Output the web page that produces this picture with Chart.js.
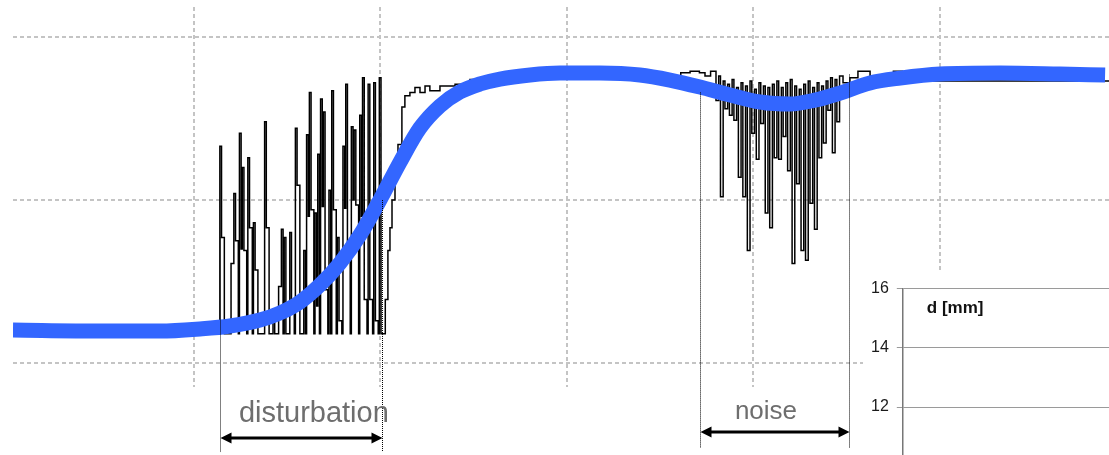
<!DOCTYPE html>
<html>
<head>
<meta charset="utf-8">
<script src="https://cdn.jsdelivr.net/npm/chart.js@4.4.0/dist/chart.umd.min.js"></script>
<style>
  body { margin: 0; background: #fff; }
  #wrap { position: relative; width: 1109px; height: 455px; overflow: hidden; }
  #inset { position: absolute; left: 863px; top: 271px; width: 246px; height: 201px; background: #fff; }
  canvas { display: block; }
</style>
</head>
<body>
<div id="wrap">
  <canvas id="myChart" width="1109" height="455"></canvas>
  <div id="inset"><canvas id="insetChart" width="246" height="201"></canvas></div>
</div>
<script>
// time axis [s], signal in arbitrary units
const gridT = [10, 20, 30, 40, 50];
const gridV = [0, 10, 20];

// smoothed (blue) curve
const blueT = [0.3, 4.96, 8.18, 10.32, 11.93, 13.54, 14.61, 15.68, 16.76, 17.83,
  18.90, 19.97, 21.05, 22.12, 23.19, 24.26, 25.34, 26.41, 28.02, 29.62,
  31.77, 33.91, 35.52, 37.13, 38.74, 40.35, 41.96, 43.30, 44.64, 46.25,
  47.86, 50.0, 53.22, 56.43, 58.85];
const blueV = [2.02, 1.96, 1.96, 2.09, 2.27, 2.64, 3.07, 3.74, 4.79, 6.13,
  7.85, 10.0, 12.33, 14.42, 15.77, 16.63, 17.12, 17.42, 17.67, 17.79,
  17.79, 17.67, 17.36, 16.93, 16.44, 16.01, 15.89, 16.13, 16.56, 17.18,
  17.48, 17.73, 17.79, 17.73, 17.67];

// raw signal: quiet start
const leadT = [0.3, 11.3];
const leadV = [1.8, 1.8];

// disturbation burst, one sample pair per 0.15 s
const distStart = 11.39;
const distStep = 0.15;
const distPeak = [13.3, 7.7, 1.8, 1.8, 6.1, 10.4, 7.5, 14.1, 12.0, 6.9,
  12.6, 8.3, 8.6, 5.7, 1.8, 1.8, 14.8, 8.3, 1.8, 2.6,
  1.8, 4.7, 8.2, 7.7, 1.8, 8.0, 3.9, 14.4, 10.9, 1.8,
  6.9, 14.0, 16.6, 9.4, 9.2, 12.8, 16.2, 15.4, 4.5, 10.6,
  16.7, 9.4, 7.7, 2.6, 13.3, 17.1, 6.9, 14.5, 14.3, 9.7,
  15.2, 17.5, 3.9, 17.1, 3.9, 17.2, 2.6, 17.5, 1.8];
const distLow = [7.7, 1.8, 1.8, 1.8, 6.1, 7.5, 1.8, 7.0, 6.9, 1.8,
  8.3, 1.8, 5.7, 1.8, 1.8, 1.8, 8.3, 1.8, 1.8, 1.8,
  1.8, 4.7, 1.8, 1.8, 1.8, 3.9, 1.8, 10.9, 1.8, 1.8,
  1.8, 9.0, 9.4, 1.8, 3.5, 1.8, 9.6, 4.5, 1.8, 1.8,
  9.4, 1.8, 2.6, 1.8, 9.5, 6.9, 1.8, 10.0, 9.7, 1.8,
  9.0, 3.9, 1.8, 3.9, 1.8, 2.6, 1.8, 1.8, 1.8];

// rise and plateau
const riseT = [20.26, 20.40, 20.51, 20.62, 20.78, 20.94, 21.15, 21.31, 21.58, 21.85,
  22.12, 22.39, 22.65, 23.19, 24.0, 24.8, 26.4, 29.6, 32.8, 36.1,
  36.6, 37.1, 37.4, 37.7];
const riseV = [3.9, 6.9, 8.3, 10.0, 11.8, 13.4, 15.7, 16.4, 16.6, 16.9,
  16.6, 17.0, 16.7, 17.0, 17.1, 17.4, 17.5, 17.6, 17.5, 17.8,
  17.9, 17.8, 17.6, 17.9];

// noise section, one sample pair per 0.24 s
const noiseStart = 37.99;
const noiseStep = 0.24;
const noiseDip = [16.1, 10.2, 15.6, 15.2, 14.9, 11.4, 10.2, 6.9, 14.1, 12.5,
  14.7, 9.2, 8.3, 12.6, 12.5, 13.9, 11.8, 6.1, 11.0, 6.9,
  6.3, 9.8, 8.2, 12.6, 13.5, 15.5, 12.9, 14.8];
const noiseTop = [17.6, 17.3, 17.1, 17.4, 16.9, 17.2, 17.0, 17.3, 16.8, 17.2,
  17.0, 16.9, 17.1, 17.3, 16.9, 17.2, 17.4, 17.0, 16.8, 17.1,
  17.3, 16.9, 17.2, 17.0, 17.3, 17.5, 17.4, 17.6];

const tailT = [44.8, 45.17, 45.6, 46.25, 47.5, 48.0, 59.06];
const tailV = [17.2, 17.5, 17.9, 17.6, 17.9, 17.3, 17.3];

// marked intervals
const regionNames = ['disturbation', 'noise'];
const regionStart = [11.39, 37.13];
const regionEnd = [20.08, 45.12];
const guideTopStart = [7.7, 16.6];
const guideTopEnd = [10.0, 17.7];
const guideFloor = [-5.46, -5.2];
const arrowLevel = [-4.6, -4.23];
const labelT = [16.43, 40.67];
const labelV = [-3.62, -3.44];

// inset axis d [mm]
const insetTicks = [12, 14, 16];
const insetTitle = 'd [mm]';

const blue = blueT.map((t, i) => ({ x: t, y: blueV[i] }));
const signal = [];
leadT.forEach((t, i) => signal.push({ x: t, y: leadV[i] }));
distPeak.forEach((v, k) => {
  const t = distStart + k * distStep;
  signal.push({ x: t, y: v });
  signal.push({ x: t + distStep * 0.6, y: distLow[k] });
});
riseT.forEach((t, i) => signal.push({ x: t, y: riseV[i] }));
noiseDip.forEach((v, k) => {
  const t = noiseStart + k * noiseStep;
  signal.push({ x: t, y: v });
  signal.push({ x: t + noiseStep * 0.6, y: noiseTop[k] });
});
tailT.forEach((t, i) => signal.push({ x: t, y: tailV[i] }));

const regionPlugin = {
  id: 'regions',
  afterDatasetsDraw(chart) {
    const { ctx, scales: { x, y } } = chart;
    ctx.save();
    regionNames.forEach((name, i) => {
      const x0 = Math.round(x.getPixelForValue(regionStart[i])) + 0.5;
      const x1 = Math.round(x.getPixelForValue(regionEnd[i])) + 0.5;
      const yb = y.getPixelForValue(guideFloor[i]);

      ctx.strokeStyle = '#000';
      ctx.lineWidth = 1;
      ctx.setLineDash([1, 1]);
      ctx.beginPath();
      ctx.moveTo(x0, y.getPixelForValue(guideTopStart[i]));
      ctx.lineTo(x0, yb);
      ctx.moveTo(x1, y.getPixelForValue(guideTopEnd[i]));
      ctx.lineTo(x1, yb);
      ctx.stroke();

      const ya = y.getPixelForValue(arrowLevel[i]);
      ctx.setLineDash([]);
      ctx.strokeStyle = '#000';
      ctx.fillStyle = '#000';
      ctx.lineWidth = 3;
      ctx.beginPath();
      ctx.moveTo(x0 + 8, ya);
      ctx.lineTo(x1 - 8, ya);
      ctx.stroke();
      ctx.beginPath();
      ctx.moveTo(x0, ya);
      ctx.lineTo(x0 + 11, ya - 5.5);
      ctx.lineTo(x0 + 11, ya + 5.5);
      ctx.closePath();
      ctx.moveTo(x1, ya);
      ctx.lineTo(x1 - 11, ya - 5.5);
      ctx.lineTo(x1 - 11, ya + 5.5);
      ctx.closePath();
      ctx.fill();

      ctx.fillStyle = '#6e6e6e';
      ctx.font = (i === 0 ? 29 : 26) + 'px "Liberation Sans", Arial, sans-serif';
      ctx.textAlign = 'center';
      ctx.textBaseline = 'alphabetic';
      ctx.fillText(name, x.getPixelForValue(labelT[i]), y.getPixelForValue(labelV[i]));
    });
    ctx.restore();
  }
};

const gridOpts = { color: '#c4c4c4', lineWidth: 2, drawTicks: false };

new Chart(document.getElementById('myChart'), {
  type: 'line',
  data: {
    datasets: [{
      label: 'smoothed',
      data: blue,
      borderColor: '#3366ff',
      borderWidth: 15,
      pointRadius: 0,
      cubicInterpolationMode: 'monotone',
      fill: false
    }, {
      label: 'raw',
      data: signal,
      borderColor: '#000',
      borderWidth: 1.5,
      pointRadius: 0,
      stepped: true,
      fill: false
    }]
  },
  options: {
    responsive: false,
    animation: false,
    layout: { padding: { left: 13, top: 7, right: 0, bottom: 68 } },
    plugins: { legend: { display: false }, tooltip: { enabled: false } },
    scales: {
      x: {
        type: 'linear', min: 0.3, max: 59.06,
        afterBuildTicks: s => { s.ticks = gridT.map(v => ({ value: v })); },
        ticks: { display: false },
        grid: gridOpts,
        border: { display: false, dash: [4, 3] }
      },
      y: {
        type: 'linear', min: -1.47, max: 21.84,
        afterBuildTicks: s => { s.ticks = gridV.map(v => ({ value: v })); },
        ticks: { display: false },
        grid: gridOpts,
        border: { display: false, dash: [4, 3] }
      }
    }
  },
  plugins: [regionPlugin]
});

const insetTitlePlugin = {
  id: 'insetTitle',
  afterDraw(chart) {
    const { ctx, chartArea } = chart;
    ctx.save();
    ctx.fillStyle = '#111';
    ctx.font = 'bold 17px "Liberation Sans", Arial, sans-serif';
    ctx.textAlign = 'left';
    ctx.fillText(insetTitle, chartArea.left + 24, chartArea.top + 24);
    ctx.restore();
  }
};

new Chart(document.getElementById('insetChart'), {
  type: 'scatter',
  data: { datasets: [] },
  options: {
    responsive: false,
    animation: false,
    layout: { padding: { left: 0, top: 0, right: 0, bottom: 0 } },
    plugins: { legend: { display: false }, tooltip: { enabled: false } },
    scales: {
      x: { display: false, min: 0, max: 1 },
      y: {
        min: 10.4, max: 16,
        afterBuildTicks: s => { s.ticks = insetTicks.map(v => ({ value: v })); },
        ticks: { color: '#1a1a1a', padding: 8, font: { family: '"Liberation Sans", Arial, sans-serif', size: 16 } },
        grid: { color: '#9a9a9a', lineWidth: 1, tickLength: 6 },
        border: { color: '#777', width: 1.5 }
      }
    }
  },
  plugins: [insetTitlePlugin]
});
</script>
</body>
</html>
